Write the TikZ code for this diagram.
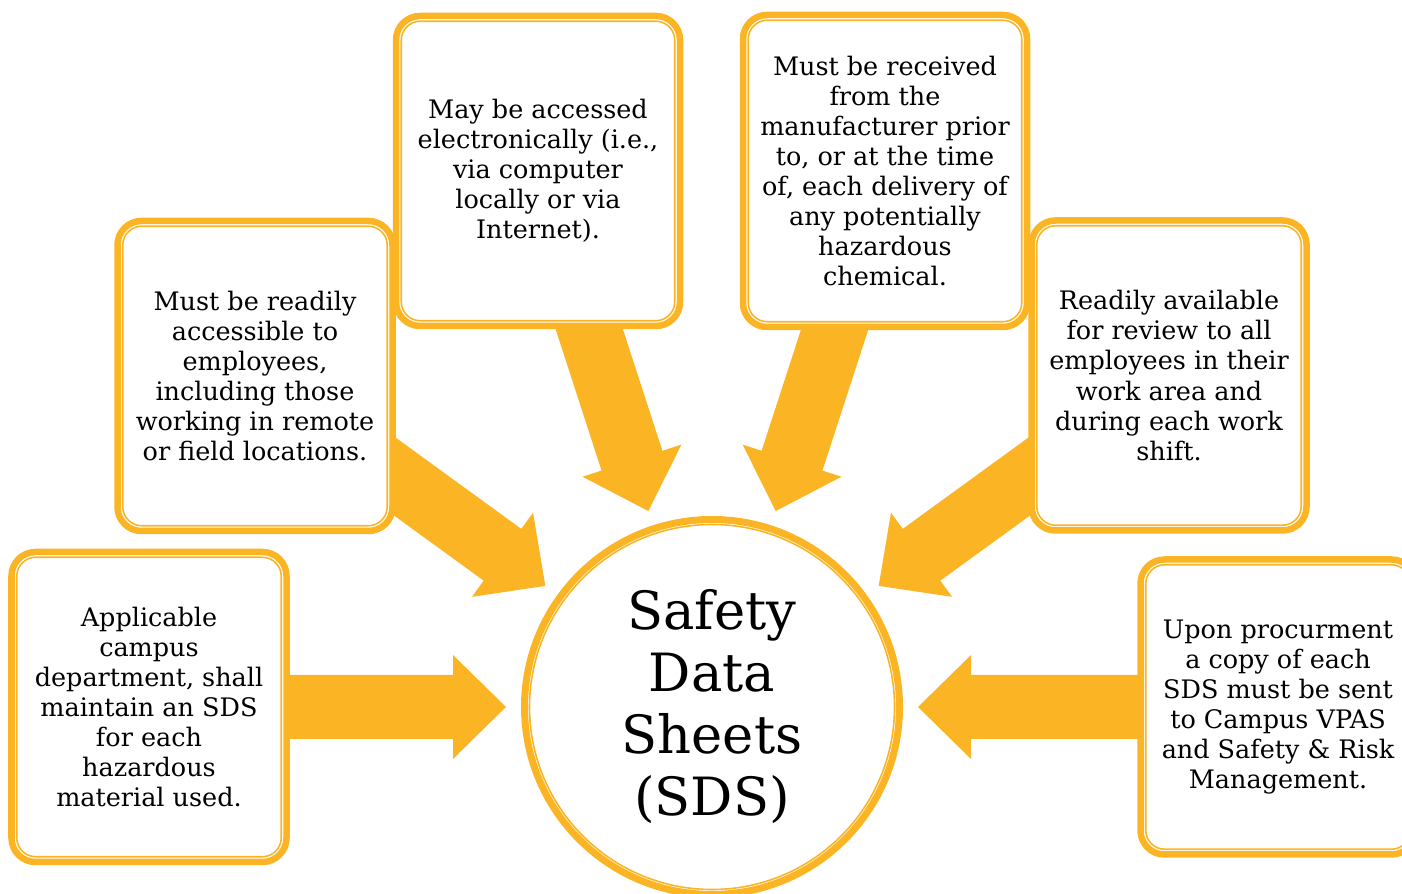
\documentclass[tikz,border=0pt]{standalone}
\usepackage{fontspec}
\setmainfont{DejaVu Serif}
\definecolor{sdsorange}{RGB}{251,181,36}
\tikzset{
  infobox/.style={draw=sdsorange, line width=0.13cm, fill=white, rounded corners=0.48cm, outer sep=0pt,
    minimum width=5.5cm, minimum height=6.2cm, align=center, font=\fontsize{14.5}{17.1}\selectfont},
  hub/.style={circle, draw=sdsorange, line width=0.14cm, fill=white, outer sep=0pt, inner sep=0pt,
    minimum size=7.5cm, align=center, font=\fontsize{30}{35.3}\selectfont},
  blockarrow/.style={fill=sdsorange},
  innerline/.style={draw=sdsorange, line width=0.9pt}
}

\begin{document}
\begin{tikzpicture}
		\useasboundingbox (0,0) rectangle (28.04,17.88);
		\clip (0,0) rectangle (28.04,17.88);
		\node[hub] (sds) at (14.24,3.74) {Safety\\Data\\Sheets\\(SDS)};
		\foreach \ang in {0,36,...,180}
			\fill[blockarrow, shift={(sds.center)}, rotate=\ang] (4.12,0) -- (5.18,1.04) -- (5.18,0.64) -- (8.8,0.64)
				-- (8.8,-0.64) -- (5.18,-0.64) -- (5.18,-1.04) -- cycle;
		\node[infobox] (b1) at (2.98,3.74) {Applicable\\campus\\department, shall\\maintain an SDS\\for each\\hazardous\\material used.};
		\node[infobox] (b2) at (5.10,10.36) {Must be readily\\accessible to\\employees,\\including those\\working in remote\\or field locations.};
		\node[infobox, minimum width=5.68cm] (b3) at (10.76,14.46) {May be accessed\\electronically (i.e.,\\via computer\\locally or via\\Internet).};
		\node[infobox, minimum width=5.68cm, minimum height=6.24cm] (b4) at (17.70,14.46) {Must be received\\from the\\manufacturer prior\\to, or at the time\\of, each delivery of\\any potentially\\hazardous\\chemical.};
		\node[infobox] (b5) at (23.38,10.37) {Readily available\\for review to all\\employees in their\\work area and\\during each work\\shift.};
		\node[infobox, minimum height=5.9cm] (b6) at (25.56,3.74) {Upon procurment\\a copy of each\\SDS must be sent\\to Campus VPAS\\and Safety \& Risk\\Management.};
		\foreach \n in {b1,b2,b3,b4,b5,b6}
			\draw[innerline, rounded corners=0.38cm] ([shift={(0.105,0.105)}]\n.south west) rectangle ([shift={(-0.105,-0.105)}]\n.north east);
		\draw[innerline] (sds.center) circle (3.65);
	\end{tikzpicture}
\end{document}
